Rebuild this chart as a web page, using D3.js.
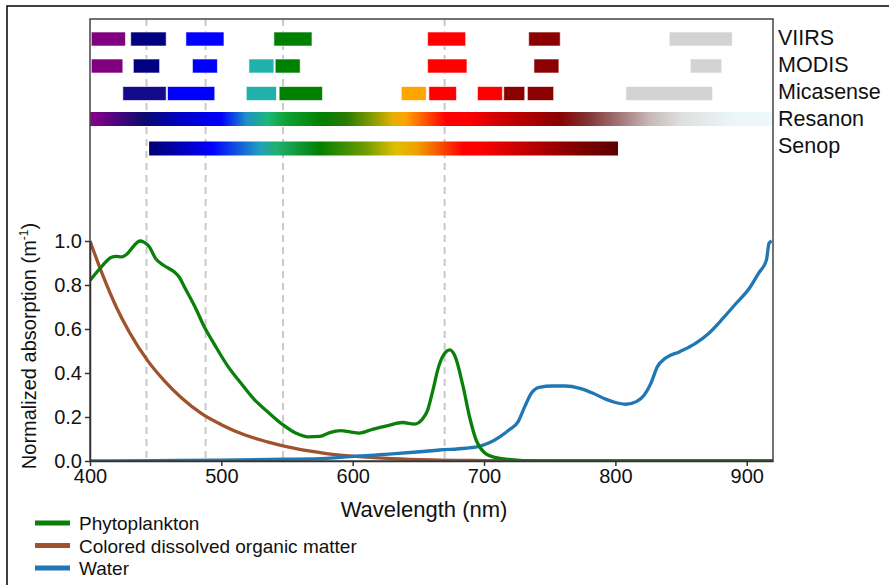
<!DOCTYPE html>
<html>
<head>
<meta charset="utf-8">
<script src="https://cdn.jsdelivr.net/npm/d3@7"></script>
<style>
body { margin: 0; background: #fff; }
text { font-family: "Liberation Sans", Arial, sans-serif; fill: #111; }
</style>
</head>
<body>
<script>
// spectra: [wavelength nm, normalized absorption]
var phyto = [[400,0.82],[404,0.85],[409,0.885],[416,0.925],[420,0.93],[424,0.928],[428,0.94],[433,0.975],[438,1.0],[441,0.995],
  [445,0.975],[450,0.92],[456,0.89],[464,0.86],[468,0.835],[472,0.79],[480,0.70],[487,0.61],[495,0.527],[505,0.43],
  [515,0.353],[525,0.28],[535,0.225],[547,0.164],[557,0.126],[566,0.11],[575,0.112],[582,0.128],[591,0.138],[598,0.132],
  [605,0.127],[615,0.144],[626,0.16],[638,0.175],[647,0.168],[653,0.19],[657,0.23],[661,0.32],[665,0.42],[669,0.48],
  [674,0.505],[678,0.475],[684,0.34],[689,0.2],[694,0.095],[700,0.04],[709,0.015],[719,0.007],[730,0.002],[750,0],[920,0]];
var cdom = [[400,1.0],[410,0.84],[420,0.70],[430,0.585],[444,0.455],[457,0.362],[470,0.285],[485,0.215],[500,0.165],
  [518,0.118],[535,0.087],[555,0.058],[580,0.034],[605,0.02],[630,0.011],[660,0.005],[700,0.002],[750,0],[920,0]];
var water = [[400,0],[450,0.002],[500,0.004],[550,0.008],[580,0.012],[605,0.023],[630,0.032],[651,0.042],[666,0.05],[686,0.058],
  [697,0.068],[704,0.083],[712,0.11],[719,0.141],[726,0.179],[731,0.247],[736,0.308],[742,0.335],[752,0.341],[762,0.341],
  [773,0.33],[783,0.308],[793,0.28],[800,0.266],[808,0.258],[816,0.27],[822,0.30],[827,0.353],[832,0.429],[838,0.467],
  [849,0.497],[861,0.535],[871,0.58],[882,0.649],[892,0.717],[902,0.785],[909,0.853],[915,0.914],[917,0.99],[919,1.0]];

// sensor bands: [start nm, end nm, band]
var viirs = [[401,427,"violet"],[431,458,"deep"],[473,502,"blue"],[540,569,"green"],[657,686,"red"],[734,758,"rededge"],[841,889,"nir"]];
var modis = [[401,425,"violet"],[433,453,"deep"],[478,497,"blue"],[521,540,"cyan"],[541,560,"green"],[657,687,"red"],[738,757,"rededge"],[857,881,"nir"]];
var micasense = [[425,458,"coastal"],[459,495,"blue"],[519,542,"cyan"],[544,577,"green"],[637,656,"orange"],[658,679,"red"],
  [695,714,"red"],[715,731,"rededge"],[733,753,"rededge"],[808,874,"nir"]];
var resanonRange = [400, 920];
var senopRange = [445, 802];
var sensors = ["VIIRS", "MODIS", "Micasense", "Resanon", "Senop"];

var refLines = [443, 488, 547, 670];
var xTicks = [400, 500, 600, 700, 800, 900];
var yTicks = [0, 0.2, 0.4, 0.6, 0.8, 1.0];

// gradient stops [nm, colour]
var resanonStops = [[400,"#8b008b"],[442,"#0a0a6e"],[470,"#0000c8"],[500,"#0000ff"],[519,"#1e90c8"],[535,"#1db87a"],[550,"#10a030"],
  [577,"#008000"],[595,"#2a7a00"],[613,"#7a9a00"],[630,"#e0b000"],[640,"#ffa500"],[656,"#ff5000"],[671,"#ff0000"],[687,"#ff0000"],
  [712,"#d00000"],[757,"#8b0000"],[778,"#803030"],[801,"#a07070"],[826,"#c8b8b8"],[851,"#e0e0e0"],[889,"#eaf6f8"],[920,"#eef8fa"]];
var senopStops = [[445,"#000070"],[493,"#0000ff"],[529,"#20a0c0"],[542,"#20b070"],[575,"#008000"],[608,"#6a9a00"],[633,"#e0c000"],
  [649,"#f0a000"],[684,"#ff0000"],[697,"#ff0000"],[763,"#8b0000"],[798,"#600000"],[802,"#600000"]];

var bandColor = { violet: "#800080", deep: "#000080", coastal: "#140a8c", blue: "#0000ff", cyan: "#20b2aa",
  green: "#008000", orange: "#ffa500", red: "#ff0000", rededge: "#8b0000", nir: "#d3d3d3" };

var pLeft = 90, pRight = 773, pTop = 19, pBottom = 461;

var svg = d3.select("body").append("svg")
    .attr("width", 889)
    .attr("height", 585);

// outer border
svg.append("path").attr("d", "M7,585V6H889").attr("fill", "none").attr("stroke", "#000").attr("stroke-width", 1.5);

var x = d3.scaleLinear().domain([400, 920]).range([pLeft, pRight]);
var y = d3.scaleLinear().domain([0, 1]).range([pBottom, 241]);
var rowY = d3.scaleOrdinal().domain(sensors).range([39, 66, 93.5, 119, 148.5]);

var defs = svg.append("defs");
defs.append("clipPath").attr("id", "plot")
    .append("rect").attr("x", pLeft).attr("y", pTop).attr("width", pRight - pLeft).attr("height", pBottom - pTop);

function gradient(id, range, stops) {
    var g = defs.append("linearGradient").attr("id", id)
        .attr("gradientUnits", "userSpaceOnUse")
        .attr("x1", x(range[0])).attr("x2", x(range[1])).attr("y1", 0).attr("y2", 0);
    g.selectAll("stop").data(stops).enter().append("stop")
        .attr("offset", function (d) { return (d[0] - range[0]) / (range[1] - range[0]); })
        .attr("stop-color", function (d) { return d[1]; });
}
gradient("resanon", resanonRange, resanonStops);
gradient("senop", senopRange, senopStops);

// dashed reference lines
svg.selectAll(".ref").data(refLines).enter().append("line")
    .attr("x1", function (d) { return x(d); }).attr("x2", function (d) { return x(d); })
    .attr("y1", pTop).attr("y2", pBottom)
    .attr("stroke", "#c8c8c8").attr("stroke-width", 2).attr("stroke-dasharray", "7,5");

// band bars
var barH = 14;
[["VIIRS", viirs], ["MODIS", modis], ["Micasense", micasense]].forEach(function (s) {
    svg.append("g").selectAll("rect").data(s[1]).enter().append("rect")
        .attr("x", function (d) { return x(d[0]); })
        .attr("width", function (d) { return x(d[1]) - x(d[0]); })
        .attr("y", rowY(s[0]) - barH / 2)
        .attr("height", barH)
        .attr("fill", function (d) { return bandColor[d[2]]; })
        .attr("stroke", "#fff").attr("stroke-opacity", 0.6).attr("stroke-width", 1);
});
[["Resanon", resanonRange], ["Senop", senopRange]].forEach(function (s) {
    svg.append("rect")
        .attr("x", x(s[1][0])).attr("width", x(s[1][1]) - x(s[1][0]))
        .attr("y", rowY(s[0]) - barH / 2).attr("height", barH)
        .attr("fill", "url(#" + s[0].toLowerCase() + ")");
});

svg.selectAll(".sensor").data(sensors).enter().append("text")
    .attr("x", 778)
    .attr("y", function (d, i) { return 45 + i * 27; })
    .style("font-size", "21.5px")
    .text(function (d) { return d; });

// curves
var line = d3.line()
    .x(function (d) { return x(d[0]); })
    .y(function (d) { return y(d[1]); })
    .curve(d3.curveMonotoneX);

var series = [
    { name: "Phytoplankton", data: phyto, color: "#0a800a" },
    { name: "Colored dissolved organic matter", data: cdom, color: "#a0522d" },
    { name: "Water", data: water, color: "#1f77b4" }
];
var curves = svg.append("g").attr("clip-path", "url(#plot)");
curves.selectAll("path").data([series[1], series[2], series[0]]).enter().append("path")
    .attr("d", function (d) { return line(d.data); })
    .attr("fill", "none")
    .attr("stroke", function (d) { return d.color; })
    .attr("stroke-width", 3.3)
    .attr("stroke-linejoin", "round");

// frame
svg.append("rect").attr("x", pLeft).attr("y", pTop).attr("width", pRight - pLeft).attr("height", pBottom - pTop)
    .attr("fill", "none").attr("stroke", "#444").attr("stroke-width", 1.5);

// axes
var xAxis = svg.append("g").attr("transform", "translate(0," + pBottom + ")")
    .call(d3.axisBottom(x).tickValues(xTicks).tickSize(5).tickSizeOuter(0).tickPadding(3));
var yAxis = svg.append("g").attr("transform", "translate(" + pLeft + ",0)")
    .call(d3.axisLeft(y).tickValues(yTicks).tickFormat(d3.format(".1f")).tickSize(5).tickSizeOuter(0).tickPadding(3));
[xAxis, yAxis].forEach(function (a) {
    a.select(".domain").attr("stroke", "#333").attr("stroke-width", 1.5);
    a.selectAll(".tick line").attr("stroke", "#333").attr("stroke-width", 1.5);
    a.selectAll("text").style("font-size", "20px").attr("fill", "#111")
        .style("font-family", "'Liberation Sans', Arial, sans-serif");
});

svg.append("text")
    .attr("x", 424).attr("y", 517)
    .attr("text-anchor", "middle")
    .style("font-size", "22px")
    .text("Wavelength (nm)");

var yt = svg.append("text")
    .attr("transform", "translate(36,346) rotate(-90)")
    .attr("text-anchor", "middle")
    .style("font-size", "20px");
yt.append("tspan").text("Normalized absorption (m");
yt.append("tspan").attr("dy", -8).style("font-size", "12px").text("-1");
yt.append("tspan").attr("dy", 8).text(")");

// legend
var lg = svg.append("g").selectAll("g").data(series).enter().append("g")
    .attr("transform", function (d, i) { return "translate(35," + (523 + i * 22.5) + ")"; });
lg.append("line").attr("x1", 0).attr("x2", 35)
    .attr("stroke", function (d) { return d.color; }).attr("stroke-width", 5);
lg.append("text").attr("x", 44).attr("y", 7)
    .style("font-size", "19px")
    .text(function (d) { return d.name; });
</script>
</body>
</html>
